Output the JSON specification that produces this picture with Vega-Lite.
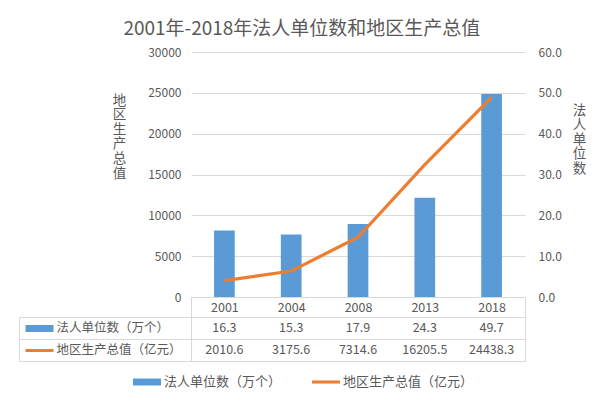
{
  "$schema": "https://vega.github.io/schema/vega-lite/v6.json",
  "padding": {"left": 18, "top": 20, "right": 10, "bottom": 5},
  "title": {"text": "2001年-2018年法人单位数和地区生产总值", "fontSize": 19, "font": "Noto Sans CJK SC", "fontWeight": "normal", "color": "#595959", "anchor": "middle", "offset": 7},
  "data": {"values": [
    {"year": "2001", "units": 16.3, "gdp": 2010.6},
    {"year": "2004", "units": 15.3, "gdp": 3175.6},
    {"year": "2008", "units": 17.9, "gdp": 7314.6},
    {"year": "2013", "units": 24.3, "gdp": 16205.5},
    {"year": "2018", "units": 49.7, "gdp": 24438.3}
  ]},
  "config": {
    "font": "Noto Sans CJK SC",
    "view": {"stroke": null},
    "axis": {"labelColor": "#595959", "titleColor": "#595959", "labelFont": "Noto Sans CJK SC", "titleFont": "Noto Sans CJK SC", "titleFontWeight": "normal"}
  },
  "bounds": "flush",
  "spacing": 20,
  "vconcat": [
    {
      "width": 334,
      "height": 245,
      "layer": [
        {
          "mark": {"type": "bar", "width": {"band": 0.31}},
          "encoding": {
            "x": {"field": "year", "type": "ordinal", "scale": {"type": "band", "paddingInner": 0, "paddingOuter": 0},
              "axis": {"title": null, "labelAngle": 0, "labelFontSize": 12.5, "labelPadding": -17, "domainColor": "#D9D9D9", "ticks": true, "tickBand": "extent", "tickSize": 21, "tickColor": "#D9D9D9",
                "tickOpacity": {"condition": {"test": "datum.value == 2001 || datum.value == 2004 || datum.value == 2008 || datum.value == 2013", "value": 0}, "value": 1}, "grid": false}},
            "y": {"field": "units", "type": "quantitative", "scale": {"domain": [0, 60]},
              "axis": {"orient": "right", "values": [0, 10, 20, 30, 40, 50, 60], "format": ".1f", "grid": false, "domain": false, "ticks": false, "labelPadding": 13, "labelFontSize": 12,
                "title": ["法", "人", "单", "位", "数"], "titleAngle": 0, "titleX": 54, "titleY": 58, "titleAlign": "center", "titleBaseline": "middle", "titleFontSize": 13.5, "titleLineHeight": 14.6}},
            "color": {"datum": "法人单位数（万个）", "type": "nominal",
              "scale": {"domain": ["法人单位数（万个）", "地区生产总值（亿元）"], "range": ["#5B9BD5", "#ED7D31"]},
              "legend": {"orient": "none", "legendX": -58, "legendY": 316, "direction": "horizontal", "title": null, "labelFontSize": 13, "labelColor": "#595959", "labelFont": "Noto Sans CJK SC",
                "symbolType": "M-1,-0.25H1V0.25H-1Z", "symbolSize": 784, "columnPadding": 30, "labelOffset": 3,
                "encode": {"symbols": {"update": {
                  "shape": {"signal": "datum.value === '法人单位数（万个）' ? 'M-1,-0.25H1V0.25H-1Z' : 'M-1,-0.11H1V0.11H-1Z'"},
                  "fill": {"signal": "datum.value === '法人单位数（万个）' ? '#5B9BD5' : '#ED7D31'"},
                  "stroke": {"value": "transparent"},
                  "strokeWidth": {"value": 0},
                  "fillOpacity": {"value": 1}
                }}}}}
          }
        },
        {
          "mark": {"type": "line", "strokeWidth": 3.2},
          "encoding": {
            "x": {"field": "year", "type": "ordinal"},
            "y": {"field": "gdp", "type": "quantitative", "scale": {"domain": [0, 30000]},
              "axis": {"orient": "left", "values": [0, 5000, 10000, 15000, 20000, 25000, 30000], "format": "d", "grid": true, "gridColor": "#D9D9D9", "domain": false, "ticks": false, "labelPadding": 10, "labelFontSize": 12,
                "title": ["地", "区", "生", "产", "总", "值"], "titleAngle": 0, "titleX": -72, "titleY": 48, "titleAlign": "center", "titleBaseline": "middle", "titleFontSize": 13.5, "titleLineHeight": 14.6}},
            "color": {"datum": "地区生产总值（亿元）", "type": "nominal"}
          }
        }
      ],
      "resolve": {"scale": {"y": "independent"}}
    },
    {
      "width": 334,
      "height": 44,
      "view": {"stroke": "#D9D9D9"},
      "transform": [{"fold": ["units", "gdp"], "as": ["series", "val"]}],
      "encoding": {
        "x": {"field": "year", "type": "ordinal", "scale": {"type": "band", "paddingInner": 0, "paddingOuter": 0}, "axis": null}
      },
      "layer": [
        {
          "mark": {"type": "text", "fontSize": 12.5, "color": "#595959"},
          "encoding": {
            "y": {"field": "series", "type": "nominal", "sort": ["units", "gdp"], "scale": {"type": "band", "paddingInner": 0, "paddingOuter": 0},
              "axis": {"orient": "left", "title": null, "labels": false, "domain": false, "grid": true, "gridColor": "#D9D9D9", "ticks": true, "tickBand": "extent", "tickSize": 172, "tickColor": "#D9D9D9"}},
            "text": {"field": "val", "type": "quantitative", "format": ".1f"}
          }
        },
        {
          "mark": {"type": "point", "opacity": 0},
          "encoding": {
            "y": {"field": "series", "type": "nominal", "sort": ["units", "gdp"],
              "axis": {"orient": "left", "offset": 172, "title": null, "labels": false, "ticks": false, "grid": false, "domain": true, "domainColor": "#D9D9D9"}}
          }
        },
        {
          "mark": {"type": "point", "opacity": 0},
          "encoding": {
            "y": {"field": "series", "type": "nominal", "sort": ["units", "gdp"],
              "axis": {"orient": "left", "offset": 138, "title": null, "domain": false, "grid": false, "ticks": true, "tickBand": "center", "tickSize": 28,
                "tickColor": {"condition": {"test": "datum.value === 'units'", "value": "#5B9BD5"}, "value": "#ED7D31"},
                "tickWidth": {"condition": {"test": "datum.value === 'units'", "value": 7}, "value": 3},
                "labelAlign": "left", "labelPadding": -31, "labelFontSize": 12.5, "labelColor": "#595959",
                "labelExpr": "datum.value === 'units' ? '法人单位数（万个）' : '地区生产总值（亿元）'"}}
          }
        }
      ],
      "resolve": {"axis": {"y": "independent"}}
    }
  ]
}
